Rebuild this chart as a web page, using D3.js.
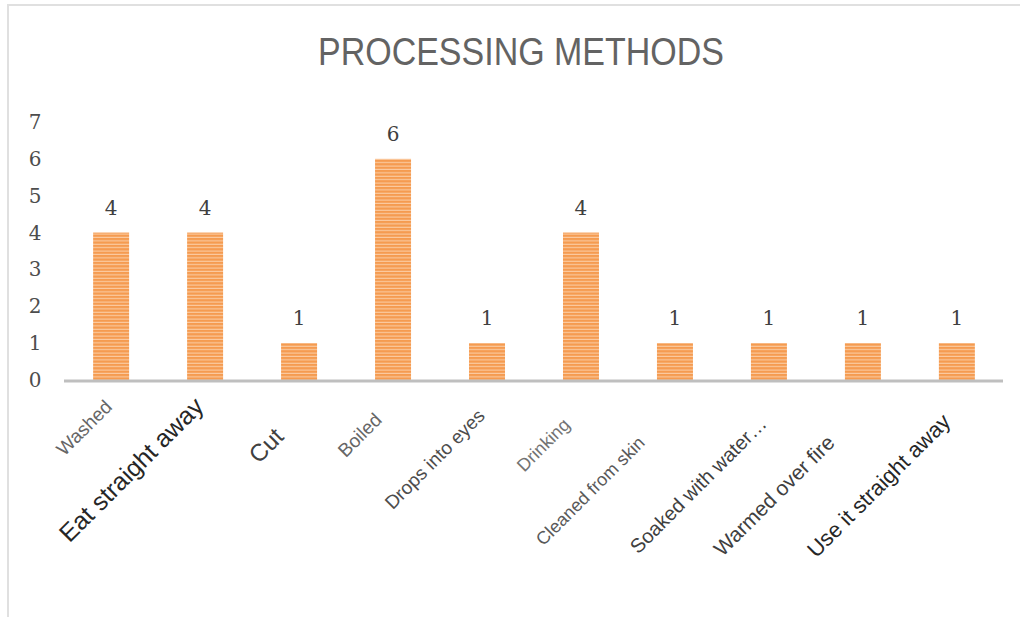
<!DOCTYPE html>
<html>
<head>
<meta charset="utf-8">
<script src="https://cdn.jsdelivr.net/npm/d3@7"></script>
<style>
  html, body { margin: 0; padding: 0; background: #fff; }
  svg { display: block; }
</style>
</head>
<body>
<svg id="chart" width="1020" height="617"></svg>
<script>
// data
var categories = ['Washed', 'Eat straight away', 'Cut', 'Boiled', 'Drops into eyes',
                  'Drinking', 'Cleaned from skin', 'Soaked with water\u2026', 'Warmed over fire', 'Use it straight away'];
var counts = [4, 4, 1, 6, 1, 4, 1, 1, 1, 1];
var yTicks = [0, 1, 2, 3, 4, 5, 6, 7];

// label styling (the source picture mixes label sizes)
var labelStyle = [
    {size: 19, color: '#666666', dx: 2,   y: 408},
    {size: 25, color: '#262626', dx: 0,   y: 408},
    {size: 24, color: '#404040', dx: -14, y: 438},
    {size: 19, color: '#666666', dx: -10, y: 421},
    {size: 19, color: '#4d4d4d', dx: -1,  y: 417},
    {size: 18, color: '#737373', dx: -10, y: 426},
    {size: 18, color: '#595959', dx: -29, y: 444},
    {size: 20, color: '#404040', dx: -1,  y: 425},
    {size: 21, color: '#404040', dx: -27, y: 444},
    {size: 22, color: '#262626', dx: -5,  y: 423}
];

var svg = d3.select('#chart');
var margin = {left: 64, right: 16, top: 122, bottom: 237};
var width = 1020, height = 617;
var plotBottom = height - margin.bottom;

// frame
svg.append('path')
    .attr('d', 'M8,617 V5 H1020')
    .attr('fill', 'none')
    .attr('stroke', '#e0e0e0')
    .attr('stroke-width', 2);

// stripe pattern
var defs = svg.append('defs');
var pat = defs.append('pattern')
    .attr('id', 'stripes')
    .attr('patternUnits', 'userSpaceOnUse')
    .attr('width', 8)
    .attr('height', 3.4);
pat.append('rect').attr('width', 8).attr('height', 3.4).attr('fill', '#fbcca3');
pat.append('rect').attr('width', 8).attr('height', 2.3).attr('fill', '#f59b50');

var x = d3.scaleBand()
    .domain(categories)
    .range([margin.left, width - margin.right])
    .paddingInner(0.617)
    .paddingOuter(0.31);

var y = d3.scaleLinear()
    .domain([0, 7])
    .range([plotBottom, margin.top]);

// title
svg.append('text')
    .attr('x', 521)
    .attr('y', 65)
    .attr('text-anchor', 'middle')
    .attr('transform', 'translate(0,65) scale(1,1.12) translate(0,-65)')
    .style('font-family', '"Liberation Sans", Arial, sans-serif')
    .style('font-size', '34px')
    .attr('fill', '#636363')
    .text('PROCESSING METHODS');

// y tick labels
svg.append('g')
    .selectAll('text')
    .data(yTicks).enter()
    .append('text')
        .attr('x', 35)
        .attr('y', d => y(d))
        .attr('dy', '0.35em')
        .attr('text-anchor', 'middle')
        .style('font-family', '"DejaVu Serif", "Liberation Serif", serif')
        .style('font-size', '20px')
        .attr('fill', '#4d4d4d')
        .text(d => d);

// bars
var bars = svg.append('g')
    .selectAll('g')
    .data(counts).enter()
    .append('g');
bars.append('rect')
    .attr('x', (d, i) => x(categories[i]))
    .attr('y', d => y(d))
    .attr('width', x.bandwidth())
    .attr('height', d => y(0) - y(d))
    .attr('fill', 'url(#stripes)');
bars.append('text')
    .attr('x', (d, i) => x(categories[i]) + x.bandwidth() / 2)
    .attr('y', d => y(d) - 18)
    .attr('text-anchor', 'middle')
    .style('font-family', '"DejaVu Serif", "Liberation Serif", serif')
    .style('font-size', '20px')
    .attr('fill', '#404040')
    .text(d => d);

// baseline
svg.append('line')
    .attr('x1', margin.left)
    .attr('x2', 1003)
    .attr('y1', y(0) + 1)
    .attr('y2', y(0) + 1)
    .attr('stroke', '#bfbfbf')
    .attr('stroke-width', 3);

// category labels
svg.append('g')
    .selectAll('text')
    .data(categories).enter()
    .append('text')
        .attr('transform', (d, i) => {
            var cx = x(d) + x.bandwidth() / 2 + labelStyle[i].dx;
            return 'translate(' + cx + ',' + labelStyle[i].y + ') rotate(-45)';
        })
        .attr('text-anchor', 'end')
        .style('font-family', '"Liberation Sans", Arial, sans-serif')
        .style('font-size', (d, i) => labelStyle[i].size + 'px')
        .attr('fill', (d, i) => labelStyle[i].color)
        .text(d => d);
</script>
</body>
</html>
